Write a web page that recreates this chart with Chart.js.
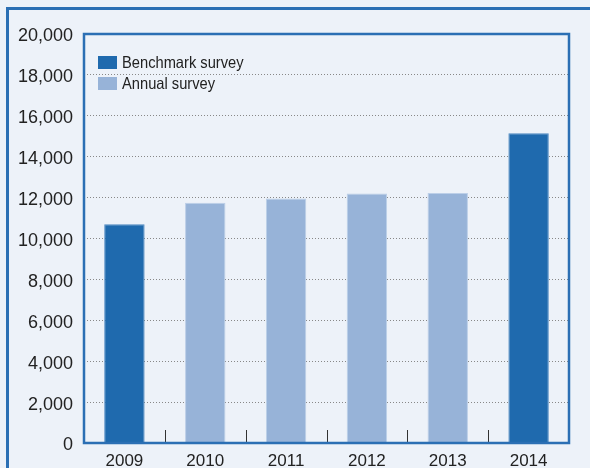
<!DOCTYPE html>
<html><head><meta charset="utf-8">
<script src="https://cdn.jsdelivr.net/npm/chart.js@4/dist/chart.umd.min.js"></script>
<style>html,body{margin:0;padding:0;background:#edf2f9;}#wrap{width:590px;height:468px;position:relative;}</style>
</head><body><div id="wrap"><canvas id="c"></canvas></div>
<script>
const categories = ["2009","2010","2011","2012","2013","2014"];
const benchmarkValues = [10700, null, null, null, null, 15150];
const annualValues = [null, 11750, 11950, 12200, 12230, null];
const yTicks = [0,2000,4000,6000,8000,10000,12000,14000,16000,18000,20000];
const seriesLabels = ["Benchmark survey","Annual survey"];
const FONT = "'Liberation Sans', Arial, sans-serif";

const frame = {
  id:'frame',
  beforeDraw(chart){
    const ctx = chart.ctx;
    ctx.save();
    ctx.fillStyle = '#edf2f9';
    ctx.fillRect(0,0,chart.width,chart.height);
    ctx.strokeStyle = '#2b6fb4';
    ctx.lineWidth = 3;
    ctx.beginPath();
    ctx.moveTo(7.5, chart.height+5);
    ctx.lineTo(7.5, 8.5);
    ctx.lineTo(chart.width+5, 8.5);
    ctx.stroke();
    ctx.restore();
  },
  afterDatasetsDraw(chart){
    const ctx = chart.ctx, a = chart.chartArea, x = chart.scales.x;
    ctx.save();
    ctx.strokeStyle = '#333';
    ctx.lineWidth = 1;
    for (let i=0;i<categories.length-1;i++){
      const px = Math.round((x.getPixelForTick(i)+x.getPixelForTick(i+1))/2)+0.5;
      ctx.beginPath(); ctx.moveTo(px, a.bottom); ctx.lineTo(px, a.bottom-13); ctx.stroke();
    }
    ctx.strokeStyle = '#2b6fb4';
    ctx.lineWidth = 2.5;
    ctx.beginPath();
    ctx.moveTo(a.left, a.bottom); ctx.lineTo(a.left, a.top); ctx.lineTo(a.right, a.top); ctx.lineTo(a.right, a.bottom); ctx.lineTo(a.left, a.bottom);
    ctx.closePath();
    ctx.stroke();
    const ds = chart.data.datasets;
    ctx.textBaseline = 'middle';
    ds.forEach((d,i)=>{
      const y = 56 + i*21;
      ctx.fillStyle = d.backgroundColor;
      ctx.fillRect(98, y, 19, 13);
      ctx.save();
      ctx.translate(122, y+7);
      ctx.scale(0.89, 1);
      ctx.font = '16.5px ' + FONT;
      ctx.fillStyle = '#222';
      ctx.fillText(d.label, 0, 0);
      ctx.restore();
    });
    ctx.restore();
  }
};

new Chart(document.getElementById('c'), {
  type:'bar',
  data:{
    labels: categories,
    datasets:[
      {label: seriesLabels[0], data: benchmarkValues, backgroundColor:'#1f6aae', borderColor:'#4d88c2', borderWidth:1},
      {label: seriesLabels[1], data: annualValues, backgroundColor:'#97b3d8', borderColor:'#bccfe8', borderWidth:1}
    ]
  },
  options:{
    responsive:true, maintainAspectRatio:false, animation:false,
    devicePixelRatio:1,
    layout:{padding:{top:34,right:21,left:0,bottom:0}},
    datasets:{bar:{grouped:false, barPercentage:0.5, categoryPercentage:1}},
    plugins:{legend:{display:false}, tooltip:{enabled:false}},
    scales:{
      x:{
        grid:{display:false, drawTicks:false},
        border:{display:false},
        ticks:{font:{size:17, family:FONT}, color:'#222', padding:8, maxRotation:0},
        afterFit(s){ s.height = 25; }
      },
      y:{
        min:0, max:20000,
        afterBuildTicks(s){ s.ticks = yTicks.map(v=>({value:v})); },
        grid:{drawTicks:false, color:(c)=> (c.tick && (c.tick.value===0||c.tick.value===20000)) ? 'rgba(0,0,0,0)' : '#888', lineWidth:1},
        border:{display:false, dash:[1,2]},
        ticks:{font:{size:18, family:FONT}, color:'#222', padding:11, labelOffset:2.5, callback:(v)=>v.toLocaleString('en-US')},
        afterFit(s){ s.width = 84; }
      }
    }
  },
  plugins:[frame]
});
</script></body></html>
